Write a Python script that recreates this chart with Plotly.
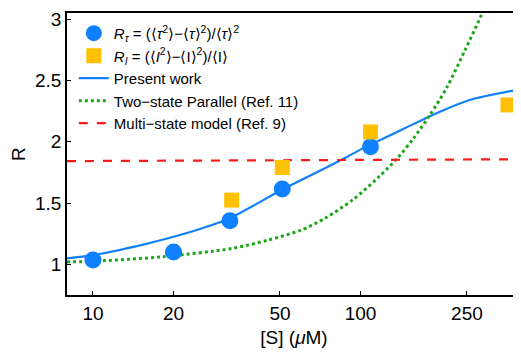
import plotly.graph_objects as go

# Data
tau_S = [10, 20, 32.5, 51, 109]
tau_R = [1.035, 1.10, 1.356, 1.614, 1.959]

int_S = [33, 51, 109, 356]
int_R = [1.524, 1.79, 2.08, 2.30]

present_S = [8, 10, 15.7, 20, 25.6, 32, 51.5, 73.6, 87, 102, 140, 167, 198, 256, 400]
present_R = [1.049, 1.075, 1.165, 1.225, 1.295, 1.37, 1.614, 1.783, 1.865, 1.946, 2.09, 2.17, 2.245, 2.34, 2.43]

two_state_S = [8, 10, 18.2, 33.1, 45.2, 60, 73.6, 94, 118, 138, 157, 182, 210, 245, 285, 320]
two_state_R = [1.02, 1.025, 1.062, 1.13, 1.198, 1.28, 1.375, 1.53, 1.72, 1.87, 2.02, 2.22, 2.44, 2.74, 3.05, 3.35]

multi_S = [8, 50, 100, 200, 400]
multi_R = [1.842, 1.847, 1.850, 1.853, 1.857]

x_ticks = [10, 20, 50, 100, 250]
y_ticks = [1, 1.5, 2, 2.5, 3]

BLUE = "#0f80ff"
YELLOW = "#ffc000"
GREEN = "#18a818"
RED = "#ff1a1a"
FONT = "Liberation Sans, Arial, sans-serif"

fig = go.Figure()
fig.add_trace(go.Scatter(
    x=present_S, y=present_R, mode="lines", line_shape="spline",
    line=dict(color=BLUE, width=2.2, smoothing=0.8), name="Present work", legendrank=3))
fig.add_trace(go.Scatter(
    x=two_state_S, y=two_state_R, mode="lines", line_shape="spline",
    line=dict(color=GREEN, width=3, dash="dot", smoothing=0.8),
    name="Two−state Parallel (Ref. 11)", legendrank=4))
fig.add_trace(go.Scatter(
    x=multi_S, y=multi_R, mode="lines",
    line=dict(color=RED, width=2.2, dash="dash"), name="Multi−state model (Ref. 9)", legendrank=5))
fig.add_trace(go.Scatter(
    x=tau_S, y=tau_R, mode="markers",
    marker=dict(symbol="circle", size=17, color=BLUE), legendrank=1,
    name="<i>R</i><sub><i>τ</i></sub> = (⟨<i>τ</i><sup>2</sup>⟩−⟨<i>τ</i>⟩<sup>2</sup>)/⟨<i>τ</i>⟩<sup>2</sup>"))
fig.add_trace(go.Scatter(
    x=int_S, y=int_R, mode="markers",
    marker=dict(symbol="square", size=15, color=YELLOW), legendrank=2,
    name="<i>R</i><sub><i>I</i></sub> = (⟨<i>I</i><sup>2</sup>⟩−⟨I⟩<sup>2</sup>)/⟨I⟩"))

# The page body has an 8px margin, so the figure is sized to fill the rest of the window.
fig.update_layout(
    width=513, height=344,
    margin=dict(l=59, r=0, t=5, b=57),
    paper_bgcolor="white", plot_bgcolor="white",
    font=dict(family=FONT, size=19, color="black"),
    showlegend=True,
    legend=dict(x=0.015, y=0.986, xanchor="left", yanchor="top",
                bgcolor="rgba(0,0,0,0)", font=dict(size=15),
                itemwidth=30, traceorder="normal"),
    xaxis=dict(type="log", range=[0.903, 2.600], automargin=False,
               tickvals=x_ticks, ticktext=[str(v) for v in x_ticks],
               ticks="inside", ticklen=4, tickwidth=1, tickcolor="black",
               tickfont=dict(size=19),
               showline=True, linecolor="black", linewidth=1.5, mirror=True,
               showgrid=False, zeroline=False,
               title=dict(text="[S] (<i>μ</i>M)", font=dict(size=19), standoff=8)),
    yaxis=dict(range=[0.75, 3.05], automargin=False,
               tickvals=y_ticks, ticktext=["1", "1.5", "2", "2.5", "3"],
               ticks="inside", ticklen=4, tickwidth=1, tickcolor="black",
               tickfont=dict(size=19),
               showline=True, linecolor="black", linewidth=1.5,
               showgrid=False, zeroline=False,
               title=dict(text="R", font=dict(size=19), standoff=4)),
)

fig.write_html("out.html")
